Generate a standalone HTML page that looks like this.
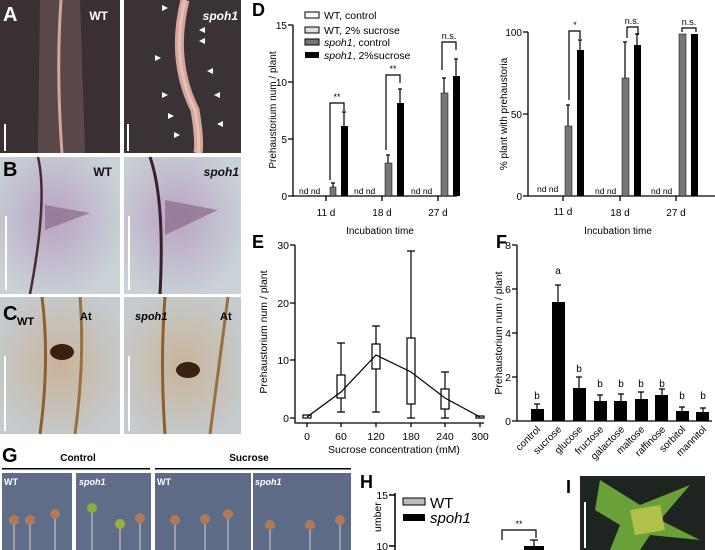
<!DOCTYPE html>
<html><head><meta charset="utf-8"><style>
body{margin:0;background:#fff}
svg{display:block}
text{font-family:"Liberation Sans",sans-serif}
</style></head><body>
<svg width="715" height="550" viewBox="0 0 715 550" xmlns="http://www.w3.org/2000/svg">
<defs>
<radialGradient id="gB" cx="0.45" cy="0.45" r="0.6"><stop offset="0" stop-color="#b9a4c4"/><stop offset="1" stop-color="#c9d2d6"/></radialGradient>
<radialGradient id="gC" cx="0.5" cy="0.5" r="0.6"><stop offset="0" stop-color="#c9b49a"/><stop offset="1" stop-color="#c4ccd0"/></radialGradient>
</defs>
<!-- A -->
<rect x="0" y="0" width="120" height="153" fill="#3a3034"/>
<rect x="124" y="0" width="117" height="153" fill="#3b3236"/>
<path d="M40 0 L80 0 L85 153 L38 153 Z" fill="#6e5a5a" opacity="0.6"/>
<path d="M61 0 Q56 70 62 153" stroke="#d9a49a" stroke-width="3" fill="none"/>
<path d="M185 0 Q170 60 195 110 Q200 140 198 153" stroke="#d3a79c" stroke-width="9" fill="none"/>
<path d="M185 0 Q170 60 195 110 Q200 140 198 153" stroke="#e8c0b4" stroke-width="3" fill="none"/>
<text x="108" y="20" font-size="12" font-weight="bold" fill="#fff" text-anchor="end">WT</text>
<text x="238" y="20" font-size="12" font-weight="bold" font-style="italic" fill="#fff" text-anchor="end">spoh1</text>
<text x="3" y="21" font-size="20" font-weight="bold" fill="#fff">A</text>
<rect x="4" y="124" width="2" height="27" fill="#fff"/><rect x="127" y="124" width="2" height="27" fill="#fff"/>
<g fill="#fff"><path d="M162 5l6 3-6 3z"/><path d="M205 27l-6 3 6 3z"/><path d="M205 38l-6 3 6 3z"/><path d="M155 55l6 3-6 3z"/><path d="M213 68l-6 3 6 3z"/><path d="M162 92l6 3-6 3z"/><path d="M220 92l-6 3 6 3z"/><path d="M168 113l6 3-6 3z"/><path d="M223 121l-6 3 6 3z"/><path d="M174 132l6 3-6 3z"/></g>
<!-- B -->
<rect x="0" y="157" width="120" height="137" fill="url(#gB)"/>
<rect x="124" y="157" width="117" height="137" fill="url(#gB)"/>
<path d="M38 157 Q48 200 30 294" stroke="#4a2a2e" stroke-width="2.5" fill="none"/>
<path d="M45 205 L90 213 L45 230 Z" fill="#8c6a8a" opacity="0.7"/>
<path d="M150 157 Q165 200 160 294" stroke="#3a2028" stroke-width="3" fill="none"/>
<path d="M165 200 L218 210 L165 235 Z" fill="#8c6a8a" opacity="0.7"/>
<text x="3" y="176" font-size="20" font-weight="bold" fill="#000">B</text>
<text x="112" y="176" font-size="12" font-weight="bold" fill="#111" text-anchor="end">WT</text>
<text x="239" y="176" font-size="12" font-weight="bold" font-style="italic" fill="#111" text-anchor="end">spoh1</text>
<rect x="5" y="216" width="2" height="74" fill="#fff"/><rect x="128" y="216" width="2" height="74" fill="#fff"/>
<!-- C -->
<rect x="0" y="297" width="120" height="137" fill="url(#gC)"/>
<rect x="124" y="297" width="117" height="137" fill="url(#gC)"/>
<path d="M42 297 Q50 360 40 434" stroke="#8a6030" stroke-width="3" fill="none"/>
<path d="M80 297 Q85 360 75 434" stroke="#9a7040" stroke-width="3" fill="none"/>
<ellipse cx="62" cy="352" rx="12" ry="8" fill="#3a2010"/>
<path d="M165 297 Q160 360 165 434" stroke="#8a6030" stroke-width="3" fill="none"/>
<path d="M228 297 Q220 360 210 434" stroke="#9a7040" stroke-width="3" fill="none"/>
<ellipse cx="188" cy="370" rx="12" ry="8" fill="#3a2010"/>
<text x="3" y="320" font-size="20" font-weight="bold" fill="#000">C</text>
<text x="17" y="325" font-size="11" font-weight="bold" fill="#000">WT</text>
<text x="80" y="320" font-size="11" font-weight="bold" fill="#000">At</text>
<text x="135" y="320" font-size="11" font-weight="bold" font-style="italic" fill="#000">spoh1</text>
<text x="220" y="320" font-size="11" font-weight="bold" fill="#000">At</text>
<rect x="4" y="356" width="2" height="75" fill="#fff"/><rect x="128" y="356" width="2" height="75" fill="#fff"/>
<!-- G -->
<text x="2" y="462" font-size="20" font-weight="bold">G</text>
<text x="78" y="461" font-size="10" font-weight="bold" text-anchor="middle">Control</text>
<text x="249" y="461" font-size="10" font-weight="bold" text-anchor="middle">Sucrose</text>
<rect x="2" y="468" width="148" height="1.5" fill="#000"/><rect x="155" y="468" width="196" height="1.5" fill="#000"/>
<rect x="2" y="473" width="70" height="77" fill="#5f6d88"/>
<rect x="76" y="473" width="75" height="77" fill="#5f6d88"/>
<rect x="155" y="473" width="96" height="77" fill="#5d6b86"/>
<rect x="253" y="473" width="98" height="77" fill="#5d6b86"/>
<g stroke="#d8d0c8" stroke-width="1" fill="none">
<path d="M14 520 v30 M30 520 v30 M55 515 v35 M92 510 v40 M120 525 v25 M140 520 v30 M175 520 v30 M205 520 v30 M228 515 v35 M270 525 v25 M310 525 v25 M340 520 v30"/></g>
<g fill="#b07a5a"><circle cx="14" cy="520" r="5"/><circle cx="30" cy="520" r="5"/><circle cx="55" cy="514" r="5"/><circle cx="92" cy="508" r="5" fill="#8ab040"/><circle cx="120" cy="524" r="5" fill="#9ab040"/><circle cx="140" cy="518" r="5"/><circle cx="175" cy="520" r="5"/><circle cx="205" cy="519" r="5"/><circle cx="228" cy="514" r="5"/><circle cx="270" cy="525" r="5"/><circle cx="310" cy="525" r="5"/><circle cx="340" cy="520" r="5"/></g>
<text x="4" y="485" font-size="9" font-weight="bold" fill="#fff">WT</text>
<text x="79" y="485" font-size="9" font-weight="bold" font-style="italic" fill="#fff">spoh1</text>
<text x="157" y="485" font-size="9" font-weight="bold" fill="#fff">WT</text>
<text x="255" y="485" font-size="9" font-weight="bold" font-style="italic" fill="#fff">spoh1</text>

<!-- D left -->
<text x="252" y="16" font-size="18" font-weight="bold">D</text>
<g font-size="10.5">
<rect x="305" y="12" width="14" height="6" fill="#fff" stroke="#000"/><text x="324" y="19">WT, control</text>
<rect x="305" y="27" width="14" height="6" fill="#ddd" stroke="#000"/><text x="324" y="34">WT, 2% sucrose</text>
<rect x="305" y="39" width="14" height="6" fill="#777" stroke="#000"/><text x="324" y="46"><tspan font-style="italic">spoh1</tspan>, control</text>
<rect x="305" y="52" width="14" height="6" fill="#000"/><text x="324" y="59"><tspan font-style="italic">spoh1</tspan>, 2%sucrose</text>
</g>
<g stroke="#000" stroke-width="1.3" fill="none">
<path d="M293 25 V196 H457"/><path d="M288 25h5M288 82h5M288 139h5M288 196h5"/>
<path d="M326 196v5M382 196v5M438 196v5"/>
</g>
<g font-size="10" text-anchor="end"><text x="287" y="29">15</text><text x="287" y="86">10</text><text x="287" y="143">5</text><text x="287" y="200">0</text></g>
<g font-size="10" text-anchor="middle"><text x="326" y="216">11 d</text><text x="382" y="216">18 d</text><text x="438" y="216">27 d</text><text x="380" y="234">Incubation time</text></g>
<text transform="translate(276,110) rotate(-90)" font-size="10" text-anchor="middle">Prehaustorium num / plant</text>
<g font-size="8.5"><text x="299" y="194">nd nd</text><text x="354" y="194">nd nd</text><text x="411" y="194">nd nd</text></g>
<g fill="#777" stroke="#000" stroke-width="0.5"><rect x="330" y="187" width="6" height="9"/><rect x="385" y="163" width="7" height="33"/><rect x="441" y="93" width="7" height="103"/></g>
<g fill="#000"><rect x="341" y="126" width="7" height="70"/><rect x="397" y="103" width="7" height="93"/><rect x="453" y="76" width="7" height="120"/></g>
<g stroke="#000" stroke-width="1.2" fill="none">
<path d="M333 187v-4m-2 0h4M388 163v-8m-2 0h4M444 93v-15m-2 0h4M344 126v-14m-2 0h4M400 103v-14m-2 0h4M456 76v-17m-2 0h4"/>
<path d="M330 180V103h14v8M386 150V75h14v8M442 70V42h14v8"/>
</g>
<g font-size="9" text-anchor="middle"><text x="337" y="100">**</text><text x="393" y="72">**</text><text x="449" y="39">n.s.</text></g>
<!-- D right -->
<g stroke="#000" stroke-width="1.3" fill="none">
<path d="M528 32 V196 H715"/><path d="M523 32h5M523 114h5M523 196h5"/>
<path d="M563 196v5M620 196v5M676 196v5"/>
</g>
<g font-size="10" text-anchor="end"><text x="522" y="36">100</text><text x="522" y="118">50</text><text x="522" y="200">0</text></g>
<g font-size="10" text-anchor="middle"><text x="563" y="215">11 d</text><text x="620" y="216">18 d</text><text x="676" y="216">27 d</text><text x="618" y="234">Incubation time</text></g>
<text transform="translate(507,114) rotate(-90)" font-size="10" text-anchor="middle">% plant with prehaustoria</text>
<g font-size="8.5"><text x="537" y="192">nd nd</text><text x="595" y="194">nd nd</text><text x="651" y="194">nd nd</text></g>
<g fill="#777" stroke="#000" stroke-width="0.5"><rect x="565" y="126" width="7" height="70"/><rect x="622" y="78" width="7" height="118"/><rect x="679" y="34" width="7" height="162"/></g>
<g fill="#000"><rect x="577" y="50" width="7" height="146"/><rect x="634" y="45" width="7" height="151"/><rect x="691" y="34" width="7" height="162"/></g>
<g stroke="#000" stroke-width="1.2" fill="none">
<path d="M568 126v-21m-2 0h4M625 78v-36m-2 0h4M580 50v-10m-2 0h4M637 45v-11m-2 0h4"/>
<path d="M569 100V31h11v8M627 38V27h11v8M682 32V28h14v4"/>
</g>
<g font-size="9" text-anchor="middle"><text x="575" y="28">*</text><text x="632" y="24">n.s.</text><text x="689" y="25">n.s.</text></g>

<!-- E -->
<text x="252" y="248" font-size="18" font-weight="bold">E</text>
<g stroke="#000" stroke-width="1.3" fill="none">
<path d="M295 245 V423 H484"/><path d="M290 245h5M290 303h5M290 360h5M290 418h5"/>
<path d="M307 423v4M341 423v4M376 423v4M411 423v4M445 423v4M480 423v4"/>
</g>
<g font-size="10.5" text-anchor="end"><text x="289" y="249">30</text><text x="289" y="307">20</text><text x="289" y="364">10</text><text x="289" y="422">0</text></g>
<g font-size="10.5" text-anchor="middle"><text x="307" y="440">0</text><text x="341" y="440">60</text><text x="376" y="440">120</text><text x="411" y="440">180</text><text x="445" y="440">240</text><text x="480" y="440">300</text><text x="394" y="453">Sucrose concentration (mM)</text></g>
<text transform="translate(267,332) rotate(-90)" font-size="10.5" text-anchor="middle">Prehaustorium num / plant</text>
<g stroke="#000" stroke-width="1.2" fill="#fff">
<rect x="303" y="415" width="8" height="3"/>
<path d="M341 375v-32m-4 0h8M341 398v14m-4 0h8"/><rect x="337" y="375" width="8" height="23"/>
<path d="M376 344v-18m-4 0h8M376 369v43m-4 0h8"/><rect x="372" y="344" width="8" height="25"/>
<path d="M411 338v-87m-4 0h8M411 404v14m-4 0h8"/><rect x="407" y="338" width="8" height="66"/>
<path d="M445 389v-17m-4 0h8M445 409v9m-4 0h8"/><rect x="441" y="389" width="8" height="20"/>
<rect x="476" y="416" width="8" height="2"/>
<polyline points="307,417 341,392 376,355 411,372 445,398 480,417" fill="none"/>
</g>
<!-- F -->
<text x="496" y="248" font-size="18" font-weight="bold">F</text>
<g stroke="#000" stroke-width="1.3" fill="none">
<path d="M517 245 V421 H712"/><path d="M512 245h5M512 289h5M512 333h5M512 377h5M512 421h5"/>
</g>
<g font-size="10.5" text-anchor="end"><text x="511" y="249">8</text><text x="511" y="293">6</text><text x="511" y="337">4</text><text x="511" y="381">2</text><text x="511" y="425">0</text></g>
<text transform="translate(502,333) rotate(-90)" font-size="10.5" text-anchor="middle">Prehaustorium num / plant</text>
<g fill="#000">
<rect x="531" y="409" width="13" height="12"/><rect x="552" y="302" width="13" height="119"/><rect x="573" y="388" width="13" height="33"/><rect x="594" y="401" width="13" height="20"/><rect x="614" y="401" width="13" height="20"/><rect x="635" y="399" width="13" height="22"/><rect x="655" y="395" width="13" height="26"/><rect x="676" y="411" width="13" height="10"/><rect x="696" y="412" width="13" height="9"/>
</g>
<g stroke="#000" stroke-width="1.2" fill="none">
<path d="M537 409v-5m-3 0h6M558 302v-17m-3 0h6M579 388v-11m-3 0h6M600 401v-6m-3 0h6M621 401v-7m-3 0h6M641 399v-7m-3 0h6M662 395v-6m-3 0h6M682 411v-4m-3 0h6M703 412v-4m-3 0h6"/>
</g>
<g font-size="10" text-anchor="middle"><text x="537" y="399">b</text><text x="558" y="274">a</text><text x="579" y="372">b</text><text x="600" y="387">b</text><text x="621" y="387">b</text><text x="641" y="387">b</text><text x="662" y="387">b</text><text x="682" y="399">b</text><text x="703" y="399">b</text></g>
<g font-size="10" text-anchor="end">
<text transform="translate(541,430) rotate(-45)">control</text>
<text transform="translate(562,430) rotate(-45)">sucrose</text>
<text transform="translate(583,430) rotate(-45)">glucose</text>
<text transform="translate(604,430) rotate(-45)">fructose</text>
<text transform="translate(625,430) rotate(-45)">galactose</text>
<text transform="translate(645,430) rotate(-45)">maltose</text>
<text transform="translate(666,430) rotate(-45)">raffinose</text>
<text transform="translate(686,430) rotate(-45)">sorbitol</text>
<text transform="translate(707,430) rotate(-45)">mannitol</text>
</g>
<!-- H -->
<text x="360" y="488" font-size="18" font-weight="bold">H</text>
<g stroke="#000" stroke-width="1.5" fill="none"><path d="M395 493 V550"/><path d="M389 495h6M389 546h6"/></g>
<g font-size="10.5" text-anchor="end"><text x="388" y="499">15</text><text x="388" y="550">10</text></g>
<text transform="translate(381,532) rotate(-90)" font-size="10.5">umber</text>
<rect x="403" y="498" width="22" height="7" fill="#bbb" stroke="#000"/><text x="430" y="508" font-size="15">WT</text>
<rect x="403" y="514" width="22" height="7" fill="#000"/><text x="430" y="523" font-size="15" font-style="italic">spoh1</text>
<path d="M502 540v-10h34v8" stroke="#000" fill="none" stroke-width="1.2"/>
<text x="519" y="527" font-size="9" text-anchor="middle">**</text>
<rect x="524" y="546" width="20" height="4" fill="#000"/><path d="M534 546v-6m-4 0h8" stroke="#000" stroke-width="1.2"/>
<!-- I -->
<text x="566" y="493" font-size="18" font-weight="bold">I</text>
<rect x="580" y="476" width="125" height="74" fill="#1e2420"/>
<path d="M600 480 L640 505 L690 485 L660 520 L700 540 L650 535 L640 550 L610 550 L620 525 L595 510 Z" fill="#6aa038"/>
<path d="M630 510 L660 505 L665 530 L635 535Z" fill="#b0c048"/>
<rect x="584" y="502" width="2" height="46" fill="#fff"/>
</svg>
</body></html>
